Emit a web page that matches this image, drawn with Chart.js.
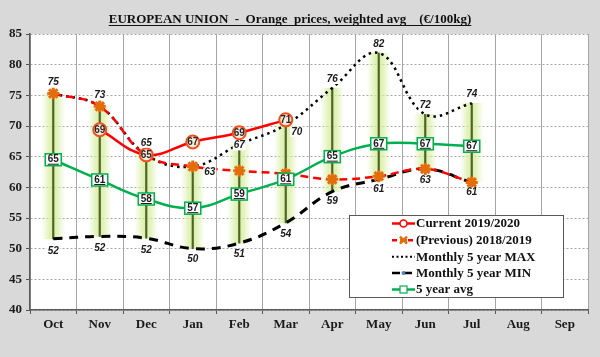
<!DOCTYPE html>
<html><head><meta charset="utf-8">
<script src="https://cdn.jsdelivr.net/npm/chart.js@4"></script>
<style>html,body{margin:0;padding:0;background:#d9d9d9;}#wrap{width:600px;height:357px;position:relative;}</style>
</head><body><div id="wrap"><canvas id="c" width="600" height="357"></canvas></div>
<script>
// ---- data ----
const months   = ['Oct','Nov','Dec','Jan','Feb','Mar','Apr','May','Jun','Jul','Aug','Sep'];
const current  = [null, 69.4, 65.3, 67.4, 68.9, 71.0, null, null, null, null, null, null];
const previous = [75.3, 73.2, 65.2, 63.4, 62.7, 62.2, 61.3, 61.8, 63.0, 60.8, null, null];
const max5     = [75.3, 73.2, 65.3, 63.4, 67.0, 70.2, 76.2, 81.9, 71.9, 73.7, null, null];
const min5     = [51.6, 52.0, 51.7, 50.0, 50.9, 54.2, 59.3, 61.3, 63.0, 60.8, null, null];
const avg5     = [64.5, 61.2, 58.1, 56.6, 58.9, 61.3, 65.0, 67.1, 67.1, 66.7, null, null];
const yMin = 40, yMax = 85, yStep = 5;
const seriesNames = ['Current 2019/2020','(Previous) 2018/2019','Monthly 5 year MAX','Monthly 5 year MIN','5 year avg'];
const titleText = 'EUROPEAN UNION  -  Orange  prices, weighted avg    (\u20AC/100kg)';

const ranges = max5.map((v,i)=> (v==null||min5[i]==null) ? null : [min5[i], v]);

// label placement (style only)
const maxOff = [[0,-11],[0,-11],[0,-12],[17,6],[0,1],[11,7],[0,-9],[0,-9],[0,-9],[0,-9]];
const minOff = [[0,12],[0,12],[0,12],[0,11],[0,11],[0,11],[0,10],[0,10],[0,11],[0,10]];

const SERIF = '"Liberation Serif","Times New Roman",serif';
const SANS = '"Liberation Sans",Arial,sans-serif';

const bgPlugin = {
  id:'bg',
  beforeDraw(chart){
    const {ctx, chartArea:a} = chart;
    ctx.save();
    ctx.fillStyle='#d9d9d9'; ctx.fillRect(0,0,chart.width,chart.height);
    ctx.fillStyle='#ffffff'; ctx.fillRect(a.left,a.top,a.right-a.left,a.bottom-a.top);
    ctx.restore();
  }
};

function labelBox(ctx, text, x, y, font){
  ctx.font = font;
  const w = ctx.measureText(text).width;
  ctx.fillStyle='#fff';
  ctx.fillRect(x-w/2-1, y-5, w+2, 10);
  ctx.fillStyle='#1a1a1a';
  ctx.fillText(text, x, y);
}

const labelPlugin = {
  id:'labels',
  afterDatasetsDraw(chart){
    const ctx = chart.ctx;
    ctx.save();
    ctx.textAlign='center'; ctx.textBaseline='middle';
    const ds = chart.data.datasets;
    const idx = name => ds.findIndex(d=>d.label===name);
    let m = chart.getDatasetMeta(idx(seriesNames[2]));
    m.data.forEach((p,i)=>{
      if (max5[i]==null) return;
      const o = maxOff[i]||[0,-10];
      labelBox(ctx, String(Math.round(max5[i])), p.x+o[0], p.y+o[1], 'italic bold 10px '+SANS);
    });
    m = chart.getDatasetMeta(idx(seriesNames[3]));
    m.data.forEach((p,i)=>{
      if (min5[i]==null) return;
      const o = minOff[i]||[0,11];
      labelBox(ctx, String(Math.round(min5[i])), p.x+o[0], p.y+o[1], 'italic bold 10px '+SANS);
    });
    m = chart.getDatasetMeta(idx(seriesNames[4]));
    m.data.forEach((p,i)=>{
      if (avg5[i]==null) return;
      const t = String(Math.round(avg5[i]));
      ctx.fillStyle='#fff'; ctx.strokeStyle='#00b050'; ctx.lineWidth=1.5;
      ctx.fillRect(p.x-8, p.y-6, 16, 12); ctx.strokeRect(p.x-8, p.y-6, 16, 12);
      ctx.font='bold 10px '+SANS; ctx.fillStyle='#1a1a1a';
      ctx.fillText(t, p.x, p.y);
      const w = ctx.measureText(t).width;
      ctx.strokeStyle='#1a1a1a'; ctx.lineWidth=1;
      ctx.beginPath(); ctx.moveTo(p.x-w/2, p.y+4.5); ctx.lineTo(p.x+w/2, p.y+4.5); ctx.stroke();
    });
    m = chart.getDatasetMeta(idx(seriesNames[0]));
    m.data.forEach((p,i)=>{
      if (current[i]==null) return;
      ctx.font='bold 10px '+SANS; ctx.fillStyle='#262626';
      ctx.fillText(String(Math.round(current[i])), p.x, p.y+0.5);
    });
    ctx.restore();
  },
  afterDraw(chart){
    const ctx = chart.ctx;
    ctx.save();
    // title
    ctx.font='bold 13px '+SERIF;
    ctx.fillStyle='#111'; ctx.textAlign='center'; ctx.textBaseline='alphabetic';
    const tw = ctx.measureText(titleText).width;
    const tx = 290, ty = 23;
    ctx.fillText(titleText, tx, ty);
    ctx.strokeStyle='#111'; ctx.lineWidth=1.2;
    ctx.beginPath(); ctx.moveTo(tx-tw/2, ty+2.5); ctx.lineTo(tx+tw/2, ty+2.5); ctx.stroke();
    // legend
    const L = {x:349, y:215, w:214, h:82};
    ctx.fillStyle='#fff'; ctx.fillRect(L.x,L.y,L.w,L.h);
    ctx.strokeStyle='#595959'; ctx.lineWidth=1; ctx.strokeRect(L.x+0.5,L.y+0.5,L.w,L.h);
    const rows=[223.5,240.2,256.8,273,289.5];
    const x1=392, x2=415, xm=403.5;
    ctx.textAlign='left'; ctx.textBaseline='middle';
    rows.forEach((y,k)=>{
      ctx.save();
      ctx.lineCap='butt';
      if(k===0){ ctx.strokeStyle='#ff0000'; ctx.lineWidth=2.5; ctx.beginPath(); ctx.moveTo(x1,y); ctx.lineTo(x2,y); ctx.stroke();
        ctx.fillStyle='#fff'; ctx.lineWidth=1.5; ctx.beginPath(); ctx.arc(xm,y,3.5,0,Math.PI*2); ctx.fill(); ctx.stroke(); }
      if(k===1){ ctx.strokeStyle='#ff0000'; ctx.lineWidth=2.5; ctx.setLineDash([5,3]); ctx.beginPath(); ctx.moveTo(x1,y); ctx.lineTo(x2,y); ctx.stroke();
        ctx.setLineDash([]); ctx.strokeStyle='#e46c0a'; ctx.lineWidth=2.5; const r=3.5;
        ctx.beginPath(); ctx.moveTo(xm-r,y-r); ctx.lineTo(xm+r,y+r); ctx.moveTo(xm-r,y+r); ctx.lineTo(xm+r,y-r); ctx.moveTo(xm-r,y); ctx.lineTo(xm+r,y); ctx.stroke(); }
      if(k===2){ ctx.strokeStyle='#000'; ctx.lineWidth=2; ctx.setLineDash([2,2.5]); ctx.beginPath(); ctx.moveTo(x1,y); ctx.lineTo(x2,y); ctx.stroke(); }
      if(k===3){ ctx.strokeStyle='#000'; ctx.lineWidth=2.5; ctx.setLineDash([8,4]); ctx.beginPath(); ctx.moveTo(x1,y); ctx.lineTo(x2,y); ctx.stroke();
        ctx.setLineDash([]); ctx.fillStyle='#4f81bd'; ctx.beginPath(); ctx.arc(xm,y,2,0,Math.PI*2); ctx.fill(); }
      if(k===4){ ctx.strokeStyle='#00b050'; ctx.lineWidth=2.5; ctx.beginPath(); ctx.moveTo(x1,y); ctx.lineTo(x2,y); ctx.stroke();
        ctx.fillStyle='#fff'; ctx.lineWidth=1.2; ctx.fillRect(xm-3.5,y-3.5,7,7); ctx.strokeRect(xm-3.5,y-3.5,7,7); }
      ctx.restore();
      ctx.font='bold 13px '+SERIF; ctx.fillStyle='#111';
      ctx.fillText(seriesNames[k], 416, y+0.5);
    });
    ctx.restore();
  }
};

function glow(ctx){
  const chart = ctx.chart;
  if (!chart.chartArea) return 'rgba(0,0,0,0)';
  const x = chart.scales.x.getPixelForValue(ctx.dataIndex);
  const g = chart.ctx.createLinearGradient(x-12,0,x+12,0);
  g.addColorStop(0,'rgba(220,240,170,0)');
  g.addColorStop(0.3,'rgba(215,238,160,0.65)');
  g.addColorStop(0.5,'rgba(210,236,150,0.9)');
  g.addColorStop(0.7,'rgba(215,238,160,0.65)');
  g.addColorStop(1,'rgba(220,240,170,0)');
  return g;
}

new Chart(document.getElementById('c'), {
  data:{
    labels: months,
    datasets:[
      {type:'bar', label:'range glow', data: ranges, backgroundColor: glow, borderWidth:0, barThickness:24, grouped:false, order:20},
      {type:'bar', label:'range line', data: ranges, backgroundColor:'#4f6228', borderWidth:0, barThickness:1.5, grouped:false, order:19},
      {type:'line', label: seriesNames[3], data: min5, borderColor:'#000', borderWidth:3, borderDash:[9,7], pointRadius:0, tension:0.4, order:6},
      {type:'line', label: seriesNames[2], data: max5, borderColor:'#000', borderWidth:2.5, borderDash:[2.5,4], pointRadius:0, tension:0.4, order:5},
      {type:'line', label: seriesNames[1], data: previous, borderColor:'#ff0000', borderWidth:2.5, borderDash:[8,5], pointStyle:'star', pointRadius:6, pointBorderWidth:3, pointBorderColor:'#e46c0a', pointBackgroundColor:'#e46c0a', tension:0.4, order:4},
      {type:'line', label: seriesNames[4], data: avg5, borderColor:'#00b050', borderWidth:2.5, pointRadius:0, tension:0.4, order:3},
      {type:'line', label: seriesNames[0], data: current, borderColor:'#ff0000', borderWidth:2.5, pointStyle:'circle', pointRadius:6.5, pointBorderWidth:2, pointBorderColor:'#f0501e', pointBackgroundColor:'#fde9d9', tension:0.4, order:2}
    ]
  },
  options:{
    responsive:false, animation:false,
    layout:{padding:{top:34, right:12, left:0, bottom:0}},
    plugins:{legend:{display:false}, title:{display:false}, tooltip:{enabled:false}},
    scales:{
      x:{offset:true,
         grid:{offset:true, color:'#a6a6a6', lineWidth:1, tickLength:4, tickColor:'#555'},
         border:{color:'#595959', width:1.5},
         ticks:{font:{family:SERIF, size:13, weight:'bold'}, color:'#1a1a1a', padding:3, maxRotation:0, autoSkip:false},
         afterFit(s){ s.height = 47; }},
      y:{min:yMin, max:yMax,
         grid:{color:'#a6a6a6', lineWidth:1, tickLength:4, tickColor:'#555'},
         border:{color:'#595959', width:1.5, dash:[2,2]},
         ticks:{stepSize:yStep, font:{family:SERIF, size:13, weight:'bold'}, color:'#1a1a1a', padding:4},
         afterFit(s){ s.width = 30; }}
    }
  },
  plugins:[bgPlugin, labelPlugin]
});
</script>
</body></html>
